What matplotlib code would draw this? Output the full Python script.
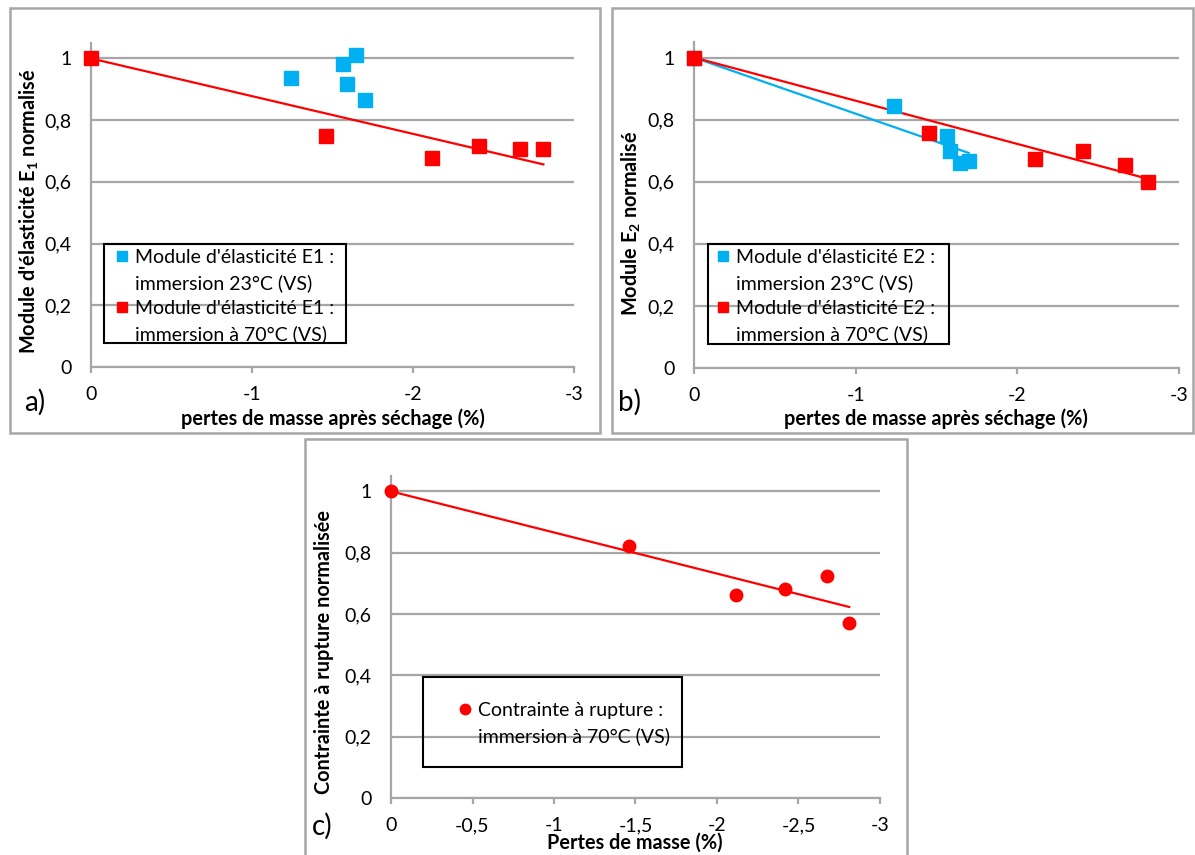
import matplotlib
matplotlib.use("Agg")
import matplotlib.pyplot as plt
import numpy as np
from matplotlib.lines import Line2D
from matplotlib.patches import Rectangle
from matplotlib.ticker import FuncFormatter

# --- data (mass loss %, normalised value) ------------------------------------
a_blue_x = [-1.244, -1.568, -1.649, -1.587, -1.699]
a_blue_y = [0.935, 0.981, 1.010, 0.916, 0.864]
a_red_x = [0.0, -1.461, -2.115, -2.410, -2.667, -2.810]
a_red_y = [1.0, 0.749, 0.676, 0.716, 0.705, 0.705]

b_blue_x = [0.0, -1.239, -1.566, -1.585, -1.648, -1.699]
b_blue_y = [1.0, 0.844, 0.748, 0.700, 0.661, 0.666]
b_red_x = [0.0, -1.455, -2.112, -2.408, -2.668, -2.807]
b_red_y = [1.0, 0.758, 0.674, 0.700, 0.655, 0.599]

c_x = [0.0, -1.461, -2.116, -2.415, -2.673, -2.811]
c_y = [1.0, 0.822, 0.663, 0.681, 0.725, 0.570]

yticks = [0, 0.2, 0.4, 0.6, 0.8, 1.0]

BLUE, RED = "#00B0F0", "#FF0000"
GRID, FRAME = "#A6A6A6", "#A6A6A6"
FONT = "Lato"
TICK_FS, LEG_FS, LAB_FS = 14, 14, 14.3

plt.rcParams.update({"font.family": FONT, "mathtext.fontset": "custom",
                     "mathtext.rm": FONT, "mathtext.bf": FONT + ":bold",
                     "mathtext.default": "bf"})

W, H = 1195, 855
fig = plt.figure(figsize=(W / 100, H / 100), dpi=100)


def px_axes(left, right, top, bottom):
    return fig.add_axes([left / W, 1 - bottom / H, (right - left) / W, (bottom - top) / H])


def trend(x, y):
    # least squares with intercept fixed at 1 (as in the spreadsheet)
    x = np.asarray(x); y = np.asarray(y)
    k = np.sum(x * (y - 1)) / np.sum(x * x)
    xs = np.array([0, x.min()])
    return xs, 1 + k * xs


def comma(v, pos):
    s = ("%g" % v).replace(".", ",")
    return "0" if s in ("0", "-0") else s


def style(ax, xticks):
    ax.set_xlim(0, -3)
    ax.set_ylim(0, 1.05)
    ax.set_yticks(yticks)
    ax.set_xticks(xticks)
    ax.xaxis.set_major_formatter(FuncFormatter(comma))
    ax.yaxis.set_major_formatter(FuncFormatter(comma))
    for s in ("top", "right"):
        ax.spines[s].set_visible(False)
    for s in ("left", "bottom"):
        ax.spines[s].set_color(GRID)
        ax.spines[s].set_linewidth(1.6)
    ax.grid(axis="y", color=GRID, lw=1.6)
    ax.set_axisbelow(True)
    ax.tick_params(axis="y", length=0, pad=14, labelsize=TICK_FS)
    ax.tick_params(axis="x", length=4, width=1.6, color=GRID, pad=10, labelsize=TICK_FS,
                   direction="out")
    ax.set_facecolor("none")


def frame(left, right, top, bottom, lw=1.8, color=FRAME):
    fig.add_artist(Rectangle((left / W, 1 - bottom / H), (right - left) / W, (bottom - top) / H,
                             transform=fig.transFigure, fill=False, lw=lw, ec=color))


def legend(ax, handles, labels, x, y, spacing=0.42):
    ax.legend(handles, labels, loc="upper left", bbox_to_anchor=(x / W, 1 - y / H),
              bbox_transform=fig.transFigure, frameon=False, fontsize=LEG_FS,
              handlelength=0.7, handletextpad=0.35, labelspacing=spacing, borderpad=0)


def blank():
    return Line2D([], [], ls="none", marker=None)


# panel frames
frame(10, 600, 8, 433)
frame(612, 1193, 8, 433)
frame(305, 907, 439, 870)

# ---- a) ----
ax = px_axes(91, 574, 43, 367)
style(ax, [0, -1, -2, -3])
ax.plot(*trend(a_red_x, a_red_y), color=RED, lw=1.6, zorder=3)
ax.plot(a_blue_x, a_blue_y, "s", color=BLUE, ms=10, zorder=4)
ax.plot(a_red_x, a_red_y, "s", color=RED, ms=10, zorder=4, clip_on=False)
frame(104, 346, 244, 343, lw=1.5, color="black")
hb = Line2D([], [], ls="none", marker="s", color=BLUE, ms=7.5)
hr = Line2D([], [], ls="none", marker="s", color=RED, ms=7.5)
legend(ax, [hb, blank(), hr, blank()],
       ["Module d'élasticité E1 :", "immersion 23°C (VS)",
        "Module d'élasticité E1 :", "immersion à 70°C (VS)"], 105, 239)
fig.text(333 / W, 1 - 419 / H, "pertes de masse après séchage (%)", ha="center", va="center",
         fontsize=LAB_FS, fontweight="bold")
fig.text(29 / W, 1 - 211 / H, "Module d'élasticité $E_1$ normalisé", ha="center", va="center",
         rotation=90, fontsize=LAB_FS, fontweight="bold")
fig.text(35 / W, 1 - 402 / H, "a)", ha="center", va="center", fontsize=20)

# ---- b) ----
ax = px_axes(694, 1179, 42, 368)
style(ax, [0, -1, -2, -3])
ax.plot(*trend(b_blue_x, b_blue_y), color=BLUE, lw=1.6, zorder=3)
ax.plot(*trend(b_red_x, b_red_y), color=RED, lw=1.6, zorder=3)
ax.plot(b_blue_x, b_blue_y, "s", color=BLUE, ms=10, zorder=4, clip_on=False)
ax.plot(b_red_x, b_red_y, "s", color=RED, ms=10, zorder=4, clip_on=False)
frame(708, 949, 244, 344, lw=1.5, color="black")
legend(ax, [hb, blank(), hr, blank()],
       ["Module d'élasticité E2 :", "immersion 23°C (VS)",
        "Module d'élasticité E2 :", "immersion à 70°C (VS)"], 706, 239)
fig.text(936 / W, 1 - 419 / H, "pertes de masse après séchage (%)", ha="center", va="center",
         fontsize=LAB_FS, fontweight="bold")
fig.text(631 / W, 1 - 223 / H, "Module $E_2$ normalisé", ha="center", va="center",
         rotation=90, fontsize=LAB_FS, fontweight="bold")
fig.text(630 / W, 1 - 402 / H, "b)", ha="center", va="center", fontsize=20)

# ---- c) ----
ax = px_axes(391, 880, 476, 798)
style(ax, [0, -0.5, -1, -1.5, -2, -2.5, -3])
ax.plot(*trend(c_x, c_y), color=RED, lw=1.6, zorder=3)
ax.plot(c_x, c_y, "o", color=RED, ms=9, zorder=4, clip_on=False)
frame(423, 682, 677, 767, lw=1.5, color="black")
hc = Line2D([], [], ls="none", marker="o", color=RED, ms=7.5)
legend(ax, [hc, blank()], ["Contrainte à rupture :", "immersion à 70°C (VS)"], 448, 692)
fig.text(635 / W, 1 - 843 / H, "Pertes de masse (%)", ha="center", va="center",
         fontsize=LAB_FS, fontweight="bold")
fig.text(324 / W, 1 - 652 / H, "Contrainte à rupture normalisée", ha="center", va="center",
         rotation=90, fontsize=LAB_FS, fontweight="bold")
fig.text(322 / W, 1 - 826 / H, "c)", ha="center", va="center", fontsize=20)

fig.savefig("out.png", dpi=100)
